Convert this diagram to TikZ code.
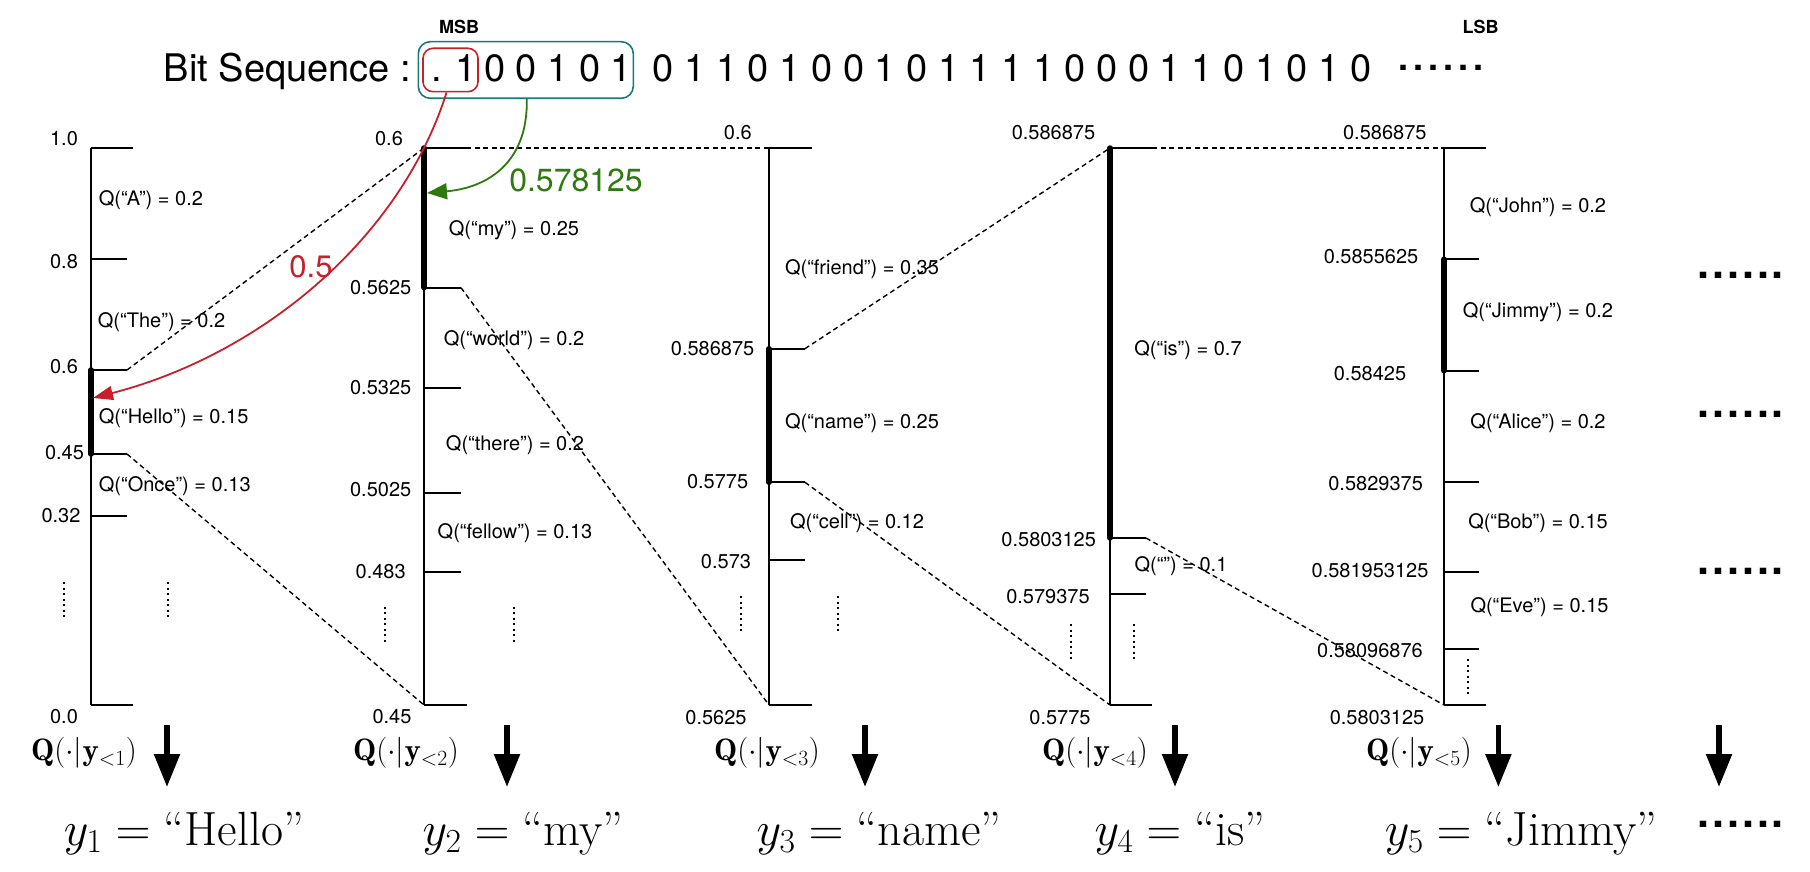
\RequirePackage{fix-cm}
\documentclass[tikz,border=0pt]{standalone}
\usepackage{fontspec}
\usepackage{amsmath}
\newfontfamily\helv{TeX Gyre Heros}
\usetikzlibrary{arrows.meta}
\definecolor{myred}{RGB}{200,32,42}
\definecolor{mygreen}{RGB}{46,122,14}
\definecolor{myteal}{RGB}{24,122,122}
\newcommand{\sixdots}[1]{.\kern#1.\kern#1.\kern#1.\kern#1.\kern#1.}
\begin{document}
\begin{tikzpicture}[x=1pt,y=-1pt,
  axis/.style={line width=1.8pt},
  tickl/.style={line width=2pt},
  chosen/.style={line width=5.5pt, line cap=round},
  conn/.style={line width=1.4pt, dash pattern=on 5pt off 3.5pt},
  vd/.style={line width=2pt, dash pattern=on 2pt off 3.5pt},
  num/.style={font=\helv\fontsize{20}{24}\selectfont, inner sep=0pt},
  ql/.style={font=\helv\fontsize{20}{24}\selectfont, inner sep=0pt},
  dist/.style={font=\fontsize{31}{36}\selectfont, inner sep=0pt},
  tok/.style={font=\fontsize{48}{56}\selectfont, inner sep=0pt, anchor=base},
  samp/.style={line width=5.5pt, -{Triangle[width=25pt,length=33pt]}},
  bits/.style={font=\helv\fontsize{38}{44}\selectfont, inner sep=0pt, anchor=base west},
  bigdots/.style={font=\helv\bfseries\fontsize{43}{48}\selectfont, inner sep=0pt, anchor=base west},
  seqdots/.style={font=\helv\bfseries\fontsize{36}{40}\selectfont, inner sep=0pt, anchor=base west},
  sb/.style={font=\helv\bfseries\fontsize{18}{22}\selectfont, inner sep=0pt},
  ]
\useasboundingbox (0,0) rectangle (1810,872);

% ---------------- bit sequence ----------------
\node[sb] (msb) at (459,26.7) {MSB};
\node[sb] (lsb) at (1480.5,26.7) {LSB};
\node[bits] (bitlabel) at (163.6,81.7) {Bit Sequence :};
\node[bits] (msbpair) at (431,81.7) {. 1};
\node[bits] (rest1) at (484,81.7) {0 0 1 0 1};
\node[bits] (rest2) at (652.7,81.7) {0 1 1 0 1 0 0 1 0 1 1 1 1 0 0 0 1 1 0 1 0 1 0};
\node[seqdots] (seqdots) at (1398,70.5) {\sixdots{5pt}};
\node[draw=myteal, line width=1.6pt, rounded corners=12pt, minimum width=215pt, minimum height=56.6pt, inner sep=0pt] (tealbox) at (525.8,70) {};
\node[draw=myred, line width=1.6pt, rounded corners=10pt, minimum width=55pt, minimum height=43.4pt, inner sep=0pt] (redbox) at (450.5,70) {};

% ---------------- column 1 ----------------
\coordinate (a1t) at (91,148);
\coordinate (a1b) at (91,705);
\draw[axis] (a1t) -- (a1b);
\draw[tickl] (a1t) -- ++(42,0) coordinate (e1a);
\draw[tickl] (91,259.3) coordinate (a1c) -- ++(36,0) coordinate (e1b);
\draw[tickl] (91,370) coordinate (a1d) -- ++(36,0) coordinate (e1c);
\draw[tickl] (91,454) coordinate (a1e) -- ++(36,0) coordinate (e1d);
\draw[tickl] (91,515.7) coordinate (a1f) -- ++(36,0) coordinate (e1e);
\draw[tickl] (a1b) -- ++(42,0) coordinate (e1f);
\draw[chosen] (a1d) -- (a1e);
\node[num] (l1a) at (64,139) {1.0};
\node[num] (l1b) at (64,261.7) {0.8};
\node[num] (l1c) at (64,367) {0.6};
\node[num] (l1d) at (64.5,453) {0.45};
\node[num] (l1e) at (61,516) {0.32};
\node[num] (l1f) at (64,716.7) {0.0};
\node[ql, anchor=west] (q1a) at (98.7,200) {Q(“A”) = 0.2};
\node[ql, anchor=west] (q1b) at (97.6,321.7) {Q(“The”) = 0.2};
\node[ql, anchor=west] (q1c) at (98.7,417.7) {Q(“Hello”) = 0.15};
\node[ql, anchor=west] (q1d) at (98.7,485.7) {Q(“Once”) = 0.13};
\draw[vd] (63.5,582) -- (63.5,620);
\draw[vd] (168,582) -- (168,620);
\coordinate (s1a) at (167,725); \coordinate (s1b) at (167,787);
\draw[samp] (s1a) -- (s1b);
\node[dist] (qd1) at (84,753) {$\mathbf{Q}(\cdot|\mathbf{y}_{<1})$};
\node[tok] (y1) at (184,845) {$y_1 = \text{“Hello”}$};

% ---------------- column 2 ----------------
\coordinate (a2t) at (424,148);
\coordinate (a2b) at (424,705);
\draw[axis] (a2t) -- (a2b);
\draw[tickl] (a2t) -- ++(42,0) coordinate (e2a);
\draw[tickl] (424,287.7) coordinate (a2c) -- ++(37,0) coordinate (e2b);
\draw[tickl] (424,387.7) -- ++(37,0) coordinate (e2c);
\draw[tickl] (424,493.3) -- ++(37,0) coordinate (e2d);
\draw[tickl] (424,571.7) -- ++(37,0) coordinate (e2e);
\draw[tickl] (a2b) -- ++(43,0) coordinate (e2f);
\draw[chosen] (a2t) -- (a2c);
\node[num] (l2a) at (389,139) {0.6};
\node[num] (l2b) at (380.7,287.7) {0.5625};
\node[num] (l2c) at (380.7,387.7) {0.5325};
\node[num] (l2d) at (380.7,490) {0.5025};
\node[num] (l2e) at (380.7,571.7) {0.483};
\node[num] (l2f) at (392,716.7) {0.45};
\node[ql] (q2a) at (514,230) {Q(“my”) = 0.25};
\node[ql] (q2b) at (514,340) {Q(“world”) = 0.2};
\node[ql] (q2c) at (515,445) {Q(“there”) = 0.2};
\node[ql] (q2d) at (515,533) {Q(“fellow”) = 0.13};
\draw[vd] (384.6,606.7) -- (384.6,645);
\draw[vd] (514,606.7) -- (514,645);
\coordinate (s2a) at (507,725); \coordinate (s2b) at (507,787);
\draw[samp] (s2a) -- (s2b);
\node[dist] (qd2) at (406,753) {$\mathbf{Q}(\cdot|\mathbf{y}_{<2})$};
\node[tok] (y2) at (523,845) {$y_2 = \text{“my”}$};

% ---------------- column 3 ----------------
\coordinate (a3t) at (769,148);
\coordinate (a3b) at (769,705);
\draw[axis] (a3t) -- (a3b);
\draw[tickl] (a3t) -- ++(43,0) coordinate (e3a);
\draw[tickl] (769,348.7) coordinate (a3c) -- ++(36,0) coordinate (e3b);
\draw[tickl] (769,482.3) coordinate (a3d) -- ++(36,0) coordinate (e3c);
\draw[tickl] (769,560) -- ++(36,0) coordinate (e3d);
\draw[tickl] (a3b) -- ++(43,0) coordinate (e3e);
\draw[chosen] (a3c) -- (a3d);
\node[num] (l3a) at (737.8,133) {0.6};
\node[num] (l3b) at (712.6,349) {0.586875};
\node[num] (l3c) at (717.6,482) {0.5775};
\node[num] (l3d) at (726,562) {0.573};
\node[num] (l3e) at (716,718) {0.5625};
\node[ql] (q3a) at (862,269) {Q(“friend”) = 0.35};
\node[ql] (q3b) at (862,423.3) {Q(“name”) = 0.25};
\node[ql] (q3c) at (857,522.7) {Q(“cell”) = 0.12};
\draw[vd] (740.8,596) -- (740.8,633);
\draw[vd] (838,596) -- (838,633);
\coordinate (s3a) at (865,725); \coordinate (s3b) at (865,787);
\draw[samp] (s3a) -- (s3b);
\node[dist] (qd3) at (767,753) {$\mathbf{Q}(\cdot|\mathbf{y}_{<3})$};
\node[tok] (y3) at (879,845) {$y_3 = \text{“name”}$};

% ---------------- column 4 ----------------
\coordinate (a4t) at (1110,148);
\coordinate (a4b) at (1110,705);
\draw[axis] (a4t) -- (a4b);
\draw[tickl] (a4t) -- ++(42,0) coordinate (e4a);
\draw[tickl] (1110,538) coordinate (a4c) -- ++(36,0) coordinate (e4b);
\draw[tickl] (1110,594) -- ++(36,0) coordinate (e4c);
\draw[tickl] (a4b) -- ++(42,0) coordinate (e4d);
\draw[chosen] (a4t) -- (a4c);
\node[num] (l4a) at (1053.5,133) {0.586875};
\node[num] (l4b) at (1048.7,540) {0.5803125};
\node[num] (l4c) at (1048,596.7) {0.579375};
\node[num] (l4d) at (1060,718) {0.5775};
\node[ql] (q4a) at (1188,350) {Q(“is”) = 0.7};
\node[ql] (q4b) at (1181,566) {Q(“”) = 0.1};
\draw[vd] (1070.7,624) -- (1070.7,662);
\draw[vd] (1134,624) -- (1134,662);
\coordinate (s4a) at (1175,725); \coordinate (s4b) at (1175,787);
\draw[samp] (s4a) -- (s4b);
\node[dist] (qd4) at (1095,753) {$\mathbf{Q}(\cdot|\mathbf{y}_{<4})$};
\node[tok] (y4) at (1180,845) {$y_4 = \text{“is”}$};

% ---------------- column 5 ----------------
\coordinate (a5t) at (1444,148);
\coordinate (a5b) at (1444,705);
\draw[axis] (a5t) -- (a5b);
\draw[tickl] (a5t) -- ++(42,0) coordinate (e5a);
\draw[tickl] (1444,259.3) coordinate (a5c) -- ++(35,0) coordinate (e5b);
\draw[tickl] (1444,370.7) coordinate (a5d) -- ++(35,0) coordinate (e5c);
\draw[tickl] (1444,482.3) -- ++(35,0) coordinate (e5d);
\draw[tickl] (1444,571.7) -- ++(35,0) coordinate (e5e);
\draw[tickl] (1444,649.3) -- ++(35,0) coordinate (e5f);
\draw[tickl] (a5b) -- ++(42,0) coordinate (e5g);
\draw[chosen] (a5c) -- (a5d);
\node[num] (l5a) at (1384.8,133) {0.586875};
\node[num] (l5b) at (1371,256.7) {0.5855625};
\node[num] (l5c) at (1370,373.3) {0.58425};
\node[num] (l5d) at (1375.6,483.3) {0.5829375};
\node[num] (l5e) at (1370,571) {0.581953125};
\node[num] (l5f) at (1370,650.7) {0.58096876};
\node[num] (l5g) at (1377,718) {0.5803125};
\node[ql] (q5a) at (1538,207) {Q(“John”) = 0.2};
\node[ql] (q5b) at (1538,312.7) {Q(“Jimmy”) = 0.2};
\node[ql] (q5c) at (1538,422.7) {Q(“Alice”) = 0.2};
\node[ql] (q5d) at (1538,523) {Q(“Bob”) = 0.15};
\node[ql] (q5e) at (1539.5,606.7) {Q(“Eve”) = 0.15};
\draw[vd] (1467.6,659) -- (1467.6,697);
\coordinate (s5a) at (1498.4,725); \coordinate (s5b) at (1498.4,787);
\draw[samp] (s5a) -- (s5b);
\node[dist] (qd5) at (1419,753) {$\mathbf{Q}(\cdot|\mathbf{y}_{<5})$};
\node[tok] (y5) at (1521,845) {$y_5 = \text{“Jimmy”}$};

% ---------------- continuation ----------------
\node[bigdots] (cd1) at (1697,278.7) {\sixdots{3pt}};
\node[bigdots] (cd2) at (1697,417) {\sixdots{3pt}};
\node[bigdots] (cd3) at (1697,574) {\sixdots{3pt}};
\node[bigdots] (cd4) at (1697,827) {\sixdots{3pt}};
\coordinate (s6a) at (1719,725); \coordinate (s6b) at (1719,787);
\draw[samp] (s6a) -- (s6b);

% ---------------- connectors ----------------
\draw[conn] (e1c) -- (a2t);
\draw[conn] (e1d) -- (a2b);
\draw[conn] (e2a) -- (a3t);
\draw[conn] (e2b) -- (a3b);
\draw[conn] (e3b) -- (a4t);
\draw[conn] (e3c) -- (a4b);
\draw[conn] (e4a) -- (a5t);
\draw[conn] (e4b) -- (a5b);

% ---------------- decoding arrows ----------------
\coordinate (hit1) at (93,398);
\coordinate (hit2) at (427,193);
\draw[myred, line width=1.8pt, -{Triangle[length=20pt,width=14pt]}]
  (redbox.-100) .. controls (400,240) and (260,355) .. (hit1);
\draw[mygreen, line width=1.8pt, -{Triangle[length=20pt,width=16pt]}]
  (tealbox.-88) .. controls (528,165) and (485,188) .. (hit2);
\node[font=\helv\fontsize{31}{36}\selectfont, text=myred, inner sep=0pt] (lab05) at (311,267) {0.5};
\node[font=\helv\fontsize{32}{38}\selectfont, text=mygreen, inner sep=0pt] (lab0578) at (576,180) {0.578125};
\end{tikzpicture}
\end{document}
